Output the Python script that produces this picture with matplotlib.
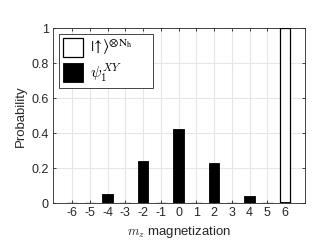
import matplotlib.pyplot as plt
import numpy as np

mz = [-6, -5, -4, -3, -2, -1, 0, 1, 2, 3, 4, 5, 6]
p_up = [0, 0, 0, 0, 0, 0, 0, 0, 0, 0, 0, 0, 1.0]
p_xy = [0.002, 0.002, 0.054, 0.0, 0.244, 0.0, 0.426, 0.0, 0.231, 0.0, 0.041, 0.0, 0.005]
yticks = [0, 0.2, 0.4, 0.6, 0.8, 1]
ytick_labels = ['0', '0.2', '0.4', '0.6', '0.8', '1']

plt.rcParams['font.family'] = ['Liberation Sans', 'DejaVu Sans']
plt.rcParams['mathtext.fontset'] = 'cm'

fig = plt.figure(figsize=(3.23, 2.49), dpi=100)
ax = fig.add_axes([53/323, 1 - 203.3/249, 252/323, 175/249])

ax.bar(mz, p_up, width=0.6, color='white', edgecolor='black', linewidth=0.9,
       label=r'$|\!\uparrow\!\rangle^{\otimes\mathrm{N_h}}$' + '\u2002\u2002\u2002', zorder=3)
ax.bar(mz, p_xy, width=0.6, color='black', edgecolor='black', linewidth=0.6,
       label=r'$\psi_1^{XY}$', zorder=3)

ax.set_xlim(-7.08, 7.12)
ax.set_ylim(0, 1)
ax.set_xticks(mz)
ax.set_xticklabels([str(v) for v in mz])
ax.set_yticks(yticks)
ax.set_yticklabels(ytick_labels)
ax.grid(True, color='#e6e6e6', linewidth=0.8, zorder=0)
ax.set_axisbelow(True)
ax.tick_params(direction='in', top=True, right=True, length=2.5, width=0.6,
               labelsize=9, colors='#262626', pad=3)
for s in ax.spines.values():
    s.set_color('#262626')
    s.set_linewidth(0.6)

ax.set_xlabel(r'$m_z$ magnetization', fontsize=9.5, color='#262626', labelpad=3)
ax.set_ylabel('Probability', fontsize=9.5, color='#262626', labelpad=3)

leg = ax.legend(loc='upper left', fontsize=11.5, fancybox=False, framealpha=1,
                edgecolor='#262626', handlelength=1.25, handleheight=1.45,
                borderpad=0.22, labelspacing=0.28, handletextpad=0.45,
                borderaxespad=0, bbox_to_anchor=(0.024, 0.967))
leg.get_frame().set_linewidth(0.6)
leg.get_texts()[0].set_math_fontfamily('stix')

fig.savefig('out.png', dpi=100)
